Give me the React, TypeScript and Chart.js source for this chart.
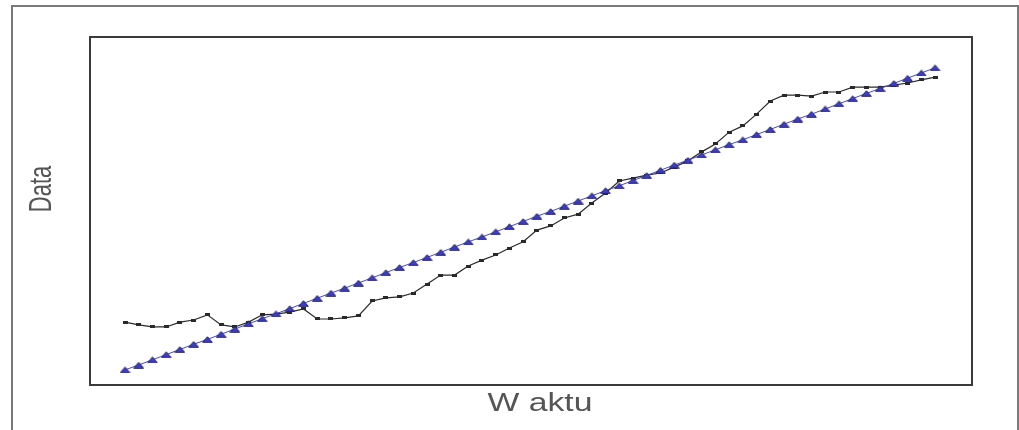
import React, { useEffect, useRef } from "react";
import { Chart, registerables } from "chart.js";

Chart.register(...registerables);

const waktu = [
  1, 2, 3, 4, 5, 6, 7, 8, 9, 10, 11, 12, 13, 14, 15, 16, 17, 18, 19, 20,
  21, 22, 23, 24, 25, 26, 27, 28, 29, 30, 31, 32, 33, 34, 35, 36, 37, 38, 39, 40,
  41, 42, 43, 44, 45, 46, 47, 48, 49, 50, 51, 52, 53, 54, 55, 56, 57, 58, 59, 60,
];

const dataAktual = [
  17.6, 16.8, 16.2, 16.2, 17.6, 18.2, 19.7, 16.8, 16.2, 17.6,
  19.7, 19.9, 20.5, 21.4, 18.5, 18.5, 18.8, 19.4, 23.7, 24.6,
  24.9, 26.0, 28.6, 31.2, 31.2, 33.8, 35.5, 37.0, 39.0, 40.8,
  44.2, 45.4, 47.7, 48.8, 52.0, 54.9, 58.4, 59.2, 60.1, 60.7,
  62.4, 64.2, 66.8, 69.1, 72.5, 74.3, 77.7, 81.5, 83.2, 83.2,
  82.9, 84.1, 84.1, 85.5, 85.5, 85.5, 86.1, 86.7, 87.6, 88.4,
];

const dataTren = [
  3.8, 5.2, 6.7, 8.2, 9.7, 11.2, 12.6, 14.1, 15.6, 17.1,
  18.6, 20.0, 21.5, 23.0, 24.5, 26.0, 27.4, 28.9, 30.4, 31.9,
  33.4, 34.8, 36.3, 37.8, 39.3, 40.8, 42.2, 43.7, 45.2, 46.7,
  48.2, 49.6, 51.1, 52.6, 54.1, 55.6, 57.0, 58.5, 60.0, 61.5,
  63.0, 64.4, 65.9, 67.4, 68.9, 70.3, 71.8, 73.3, 74.8, 76.3,
  77.7, 79.2, 80.7, 82.2, 83.7, 85.1, 86.6, 88.1, 89.6, 91.1,
];

const xTitle = "W aktu";
const yTitle = "Data";

function makeTriangle(): HTMLCanvasElement {
  const c = document.createElement("canvas");
  c.width = 11;
  c.height = 7;
  const g = c.getContext("2d")!;
  g.beginPath();
  g.moveTo(5.5, 0.8);
  g.lineTo(10.3, 6.3);
  g.lineTo(0.7, 6.3);
  g.closePath();
  g.fillStyle = "#3c3cd0";
  g.fill();
  g.strokeStyle = "#23235e";
  g.lineWidth = 1;
  g.stroke();
  return c;
}

function makeDash(): HTMLCanvasElement {
  const c = document.createElement("canvas");
  c.width = 5;
  c.height = 3;
  const g = c.getContext("2d")!;
  g.fillStyle = "#2a2a2a";
  g.fillRect(0, 0, 5, 3);
  return c;
}

const framePlugin = {
  id: "frame",
  beforeDraw(chart: any) {
    const ctx = chart.ctx;
    ctx.save();
    ctx.fillStyle = "#ffffff";
    ctx.fillRect(0, 0, chart.width, chart.height);
    ctx.restore();
  },
  afterDraw(chart: any) {
    const ctx = chart.ctx;
    const a = chart.chartArea;
    ctx.save();
    ctx.strokeStyle = "#7a7a7a";
    ctx.lineWidth = 2;
    ctx.beginPath();
    ctx.moveTo(12, 430);
    ctx.lineTo(12, 6);
    ctx.lineTo(1018, 6);
    ctx.lineTo(1018, 430);
    ctx.stroke();
    ctx.strokeStyle = "#3a3a3a";
    ctx.lineWidth = 2;
    ctx.strokeRect(a.left, a.top, a.right - a.left, a.bottom - a.top);
    ctx.fillStyle = "#555555";
    ctx.font = "25px 'Liberation Sans', Arial, sans-serif";
    ctx.textAlign = "center";
    ctx.textBaseline = "alphabetic";
    ctx.save();
    ctx.translate((a.left + a.right) / 2 + 9, 411);
    ctx.scale(1.35, 1);
    ctx.fillText(xTitle, 0, 0);
    ctx.restore();
    ctx.save();
    ctx.font = "22px 'Liberation Sans', Arial, sans-serif";
    ctx.translate(51, 189);
    ctx.scale(1.4, 1);
    ctx.rotate(-Math.PI / 2);
    ctx.fillText(yTitle, 0, 0);
    ctx.restore();
    ctx.restore();
  },
};

export default function App() {
  const ref = useRef<HTMLCanvasElement | null>(null);
  useEffect(() => {
    if (!ref.current) return;
    const tri = makeTriangle();
    const dash = makeDash();
    const chart = new Chart(ref.current, {
      type: "line",
      data: {
        datasets: [
          {
            label: "Tren",
            data: waktu.map((x, i) => ({ x, y: dataTren[i] })),
            borderColor: "#4a4ac8",
            borderWidth: 1,
            pointStyle: tri as any,
            pointRadius: 5,
            order: 0,
          },
          {
            label: "Aktual",
            data: waktu.map((x, i) => ({ x, y: dataAktual[i] })),
            borderColor: "#2a2a2a",
            borderWidth: 1.2,
            pointStyle: dash as any,
            pointRadius: 2,
            order: 1,
          },
        ],
      },
      options: {
        animation: false,
        responsive: false,
        layout: { padding: { left: 90, top: 37, right: 47, bottom: 45 } },
        plugins: { legend: { display: false }, tooltip: { enabled: false } },
        scales: {
          x: { type: "linear", display: false, min: -1.55, max: 62.69 },
          y: { type: "linear", display: false, min: -0.58, max: 100 },
        },
      },
      plugins: [framePlugin],
    });
    return () => chart.destroy();
  }, []);
  return (
    <div style={{ position: "fixed", left: 0, top: 0, width: 1019, height: 430 }}>
      <canvas ref={ref} width={1019} height={430} />
    </div>
  );
}
